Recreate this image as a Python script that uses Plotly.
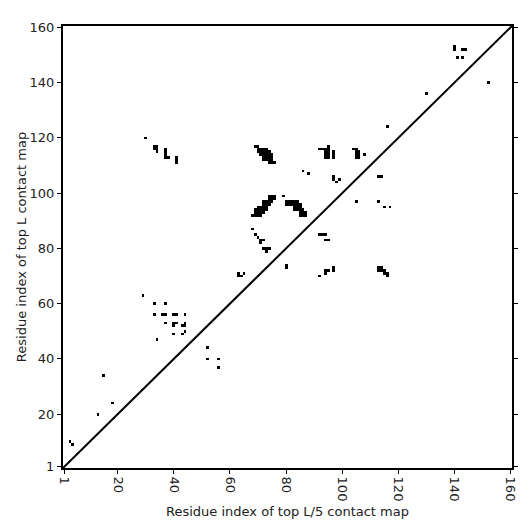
import plotly.graph_objects as go

# Residue count and tick labels
n_res = 160
tick_vals = [1, 20, 40, 60, 80, 100, 120, 140, 160]

# Upper triangle: top L contacts (x = residue i, y = residue j)
top_l_x = [3, 4, 13, 18, 15, 29, 33, 37,
           33, 36, 37, 40, 41, 44,
           37, 40, 41, 40, 43, 44, 44,
           44, 40, 43, 34,
           30, 33, 34, 33, 34, 34,
           37, 37, 37, 37, 38, 41, 41, 41,
           69, 70,
           70, 71, 72, 73,
           70, 71, 72, 73, 74,
           71, 72, 73, 74, 75,
           72, 73, 74, 75,
           72, 73, 74, 75,
           74, 75, 76,
           86, 88,
           92, 93, 94, 95, 95, 94, 95, 94, 95, 94, 95, 97, 97, 97,
           104, 105, 105, 106, 105, 106, 105, 106, 108,
           97, 97, 98, 99,
           140, 140, 143, 144, 141, 143,
           130, 116,
           74, 75, 76,
           74, 75, 76,
           72, 73, 74, 75,
           72, 73, 74,
           70, 71, 72, 73,
           69, 70, 71, 72, 73,
           69, 70, 71, 72,
           68, 69, 70, 71,
           79,
           80, 81, 82, 83, 84,
           80, 81, 82, 83, 84, 85,
           83, 84, 85,
           83, 84, 85, 86,
           85, 86, 87,
           85, 86, 87,
           68, 69, 70, 71, 72, 71, 72, 73, 74, 73,
           63, 63, 64, 65]
top_l_y = [10, 9, 20, 24, 34, 63, 60, 60,
           56, 56, 56, 56, 56, 56,
           53, 53, 53, 52, 52, 52, 53,
           50, 49, 49, 47,
           120, 117, 117, 116, 116, 115,
           116, 115, 114, 113, 113, 113, 112, 111,
           117, 117,
           116, 116, 116, 116,
           115, 115, 115, 115, 115,
           114, 114, 114, 114, 114,
           113, 113, 113, 113,
           112, 112, 112, 112,
           111, 111, 111,
           108, 107,
           116, 116, 116, 116, 117, 115, 115, 114, 114, 113, 113, 115, 114, 113,
           116, 116, 115, 115, 114, 114, 113, 113, 114,
           106, 105, 104, 105,
           153, 152, 152, 152, 149, 149,
           136, 124,
           99, 99, 99,
           98, 98, 98,
           97, 97, 97, 97,
           96, 96, 96,
           95, 95, 95, 95,
           94, 94, 94, 94, 94,
           93, 93, 93, 93,
           92, 92, 92, 92,
           99,
           97, 97, 97, 97, 97,
           96, 96, 96, 96, 96, 96,
           95, 95, 95,
           94, 94, 94, 94,
           93, 93, 93,
           92, 92, 92,
           87, 85, 84, 83, 83, 82, 80, 80, 80, 79,
           71, 70, 70, 71]

# Lower triangle: top L/5 contacts
top_l5_x = [52, 52, 56, 56, 152, 105, 113, 114, 113, 115, 117,
            113, 114, 113, 114, 115, 115, 116, 116,
            80, 80, 92, 94, 95, 94, 97, 97, 92, 93, 94, 94, 95]
top_l5_y = [44, 40, 40, 37, 140, 97, 106, 106, 97, 95, 95,
            73, 73, 72, 72, 72, 71, 71, 70,
            73, 74, 70, 72, 72, 71, 73, 72, 85, 85, 85, 83, 83]

# Build contact matrix for the heatmap
residues = list(range(1, n_res + 1))
z = [[None] * n_res for _ in range(n_res)]
for xs, ys in ((top_l_x, top_l_y), (top_l5_x, top_l5_y)):
    for i, j in zip(xs, ys):
        z[j - 1][i - 1] = 1

fig = go.Figure()
fig.add_trace(go.Heatmap(
    x=residues, y=residues, z=z,
    colorscale=[[0, "black"], [1, "black"]],
    showscale=False, hoverongaps=False,
))

# Diagonal across the whole plot area
fig.add_shape(type="line", xref="x domain", yref="y domain",
              x0=0, y0=0, x1=1, y1=1,
              line=dict(color="black", width=2))

axis_common = dict(
    range=[0.5, n_res + 0.5],
    tickvals=tick_vals,
    ticktext=[str(v) for v in tick_vals],
    ticks="outside", ticklen=4, tickwidth=1.3, tickcolor="black",
    showline=True, linewidth=2, linecolor="black",
    showgrid=False, zeroline=False,
    tickfont=dict(size=13, color="#222"),
)

fig.update_xaxes(**axis_common, mirror=True, tickangle=90,
                 title=dict(text="Residue index of top L/5 contact map",
                            font=dict(size=13), standoff=6))
fig.update_yaxes(**axis_common, mirror="ticks", tickangle=0,
                 title=dict(text="Residue index of top L contact map",
                            font=dict(size=13), standoff=0))

fig.update_layout(
    width=524, height=524,
    margin=dict(l=54, r=20, t=12, b=64),
    plot_bgcolor="white", paper_bgcolor="white",
    font=dict(family="DejaVu Sans", size=13, color="#222"),
)

fig.write_html("out.html")
